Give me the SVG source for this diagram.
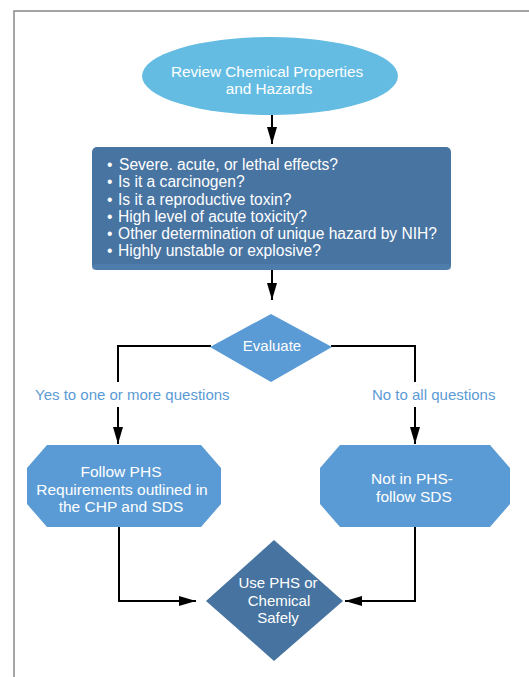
<svg xmlns="http://www.w3.org/2000/svg" width="529" height="677" viewBox="0 0 529 677">
<style>
text{font-family:"Liberation Sans",Arial,sans-serif;fill:#fff;font-size:15px}
.c{text-anchor:middle}
text.lbl{fill:#5b9bd5;font-size:15px}
.box text{font-size:15.6px}
.oct text{font-size:15.5px}
.ell text{font-size:15.3px}
.ln{fill:none;stroke:#000;stroke-width:2}
.frame{fill:none;stroke:#888;stroke-width:1.5}
</style>
<defs>
<marker id="ah" markerUnits="userSpaceOnUse" markerWidth="18" markerHeight="11" refX="17" refY="5" orient="auto">
<path d="M0,0 L17,5 L0,10 z" fill="#000"/>
</marker>
</defs>
<rect width="529" height="677" fill="#fff"/>
<path class="frame" d="M14,677 V11 H529"/>

<g id="connectors">
<line class="ln" x1="272" y1="115" x2="272" y2="144" marker-end="url(#ah)"/>
<line class="ln" x1="272" y1="270" x2="272" y2="300" marker-end="url(#ah)"/>
<path class="ln" d="M211,346 H118 V382"/>
<path class="ln" d="M331,346 H415 V382"/>
<line class="ln" x1="118" y1="407" x2="118" y2="444" marker-end="url(#ah)"/>
<line class="ln" x1="415" y1="407" x2="415" y2="444" marker-end="url(#ah)"/>
<path class="ln" d="M119,527 V601 H196" marker-end="url(#ah)"/>
<path class="ln" d="M415,527 V601 H345" marker-end="url(#ah)"/>
<text class="lbl" x="35" y="400">Yes to one or more questions</text>
<text class="lbl" x="372" y="400">No to all questions</text>
</g>

<g id="review" class="ell">
<ellipse cx="270" cy="76" rx="128" ry="39" fill="#64bce2"/>
<text class="c" x="267" y="77">Review Chemical Properties</text>
<text class="c" x="269" y="94">and Hazards</text>
</g>

<g id="questions">
<rect x="92" y="147" width="359" height="123" rx="5" fill="#4874a2"/>
<rect x="92" y="264" width="359" height="6" rx="3" fill="#5382b0" opacity="0.6"/>
<g class="box">
<text x="107" y="170">•</text><text x="119" y="170">Severe. acute, or lethal effects?</text>
<text x="107" y="187">•</text><text x="118" y="187">Is it a carcinogen?</text>
<text x="107" y="204.5">•</text><text x="118" y="204.5">Is it a reproductive toxin?</text>
<text x="107" y="222">•</text><text x="118" y="222">High level of acute toxicity?</text>
<text x="107" y="239">•</text><text x="118" y="239">Other determination of unique hazard by NIH?</text>
<text x="107" y="256">•</text><text x="118" y="256">Highly unstable or explosive?</text>
</g>
</g>

<g id="evaluate">
<polygon points="271,314 332,347 271,382 210,347" fill="#5b9bd5"/>
<text class="c" x="272" y="351">Evaluate</text>
</g>

<g id="follow-phs" class="oct">
<polygon points="47,445 201,445 221,468 221,504 201,527 47,527 27,504 27,468" fill="#5b9bd5"/>
<text class="c" x="121" y="477">Follow PHS</text>
<text class="c" x="122" y="494.5">Requirements outlined in</text>
<text class="c" x="121" y="512">the CHP and SDS</text>
</g>

<g id="not-phs" class="oct">
<polygon points="340,445 490,445 510,468 510,504 490,527 340,527 320,504 320,468" fill="#5b9bd5"/>
<text class="c" x="412" y="484">Not in PHS-</text>
<text class="c" x="414" y="502">follow SDS</text>
</g>

<g id="use-safely">
<polygon points="274,540 343,601 274,661 206,601" fill="#46739f"/>
<text class="c" x="278" y="588">Use PHS or</text>
<text class="c" x="279" y="606">Chemical</text>
<text class="c" x="278" y="623">Safely</text>
</g>
</svg>
